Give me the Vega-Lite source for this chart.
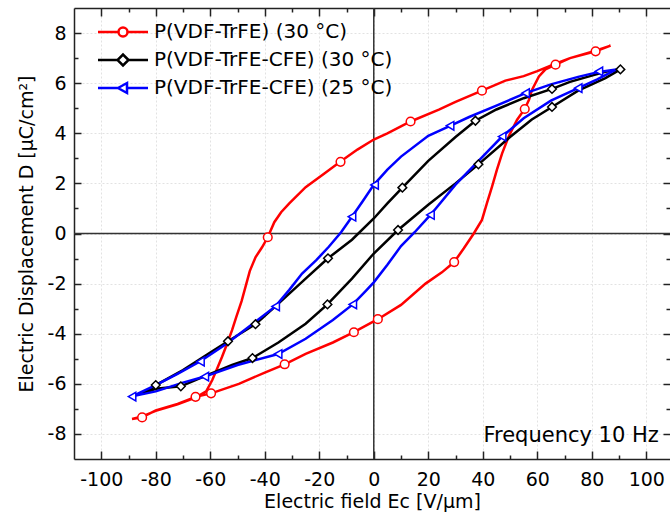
{
  "$schema": "https://vega.github.io/schema/vega-lite/v6.json",
  "width": 596,
  "height": 451,
  "autosize": "none",
  "padding": {"left": 74, "top": 8, "right": 0, "bottom": 58},
  "background": "white",
  "config": {
    "view": {"stroke": null},
    "font": "DejaVu Sans",
    "axis": {
      "labelFont": "DejaVu Sans", "labelFontSize": 19, "labelColor": "#000",
      "titleFont": "DejaVu Sans", "titleFontSize": 19, "titleFontWeight": "normal", "titleColor": "#000",
      "domainColor": "#222", "domainWidth": 1.5, "tickColor": "#222", "tickWidth": 1.5,
      "gridColor": "#e2e2e2", "gridDash": [2, 2], "gridWidth": 1
    }
  },
  "datasets": {
    "lines": [
      {"k":"r","i":1,"E":86.9,"D":7.5},{"k":"r","i":2,"E":81.4,"D":7.3},{"k":"r","i":3,"E":72,"D":7.0},{"k":"r","i":4,"E":66.7,"D":6.78},
      {"k":"r","i":5,"E":60,"D":6.48},{"k":"r","i":6,"E":55,"D":6.28},{"k":"r","i":7,"E":48.3,"D":6.1},{"k":"r","i":8,"E":39.7,"D":5.7},
      {"k":"r","i":9,"E":30,"D":5.25},{"k":"r","i":10,"E":23.9,"D":4.94},{"k":"r","i":11,"E":13.5,"D":4.47},{"k":"r","i":12,"E":5,"D":4.0},
      {"k":"r","i":13,"E":0,"D":3.75},{"k":"r","i":14,"E":-6,"D":3.35},{"k":"r","i":15,"E":-12.2,"D":2.87},{"k":"r","i":16,"E":-18,"D":2.4},
      {"k":"r","i":17,"E":-25,"D":1.85},{"k":"r","i":18,"E":-31,"D":1.2},{"k":"r","i":19,"E":-34,"D":0.85},{"k":"r","i":20,"E":-36.5,"D":0.45},
      {"k":"r","i":21,"E":-38.9,"D":-0.15},{"k":"r","i":22,"E":-41,"D":-0.55},{"k":"r","i":23,"E":-43.4,"D":-0.95},{"k":"r","i":24,"E":-45.5,"D":-1.5},
      {"k":"r","i":25,"E":-47,"D":-2.1},{"k":"r","i":26,"E":-48.5,"D":-2.7},{"k":"r","i":27,"E":-50.5,"D":-3.35},{"k":"r","i":28,"E":-52,"D":-3.86},
      {"k":"r","i":29,"E":-54,"D":-4.45},{"k":"r","i":30,"E":-55.7,"D":-4.93},{"k":"r","i":31,"E":-57.5,"D":-5.4},{"k":"r","i":32,"E":-59.3,"D":-5.86},
      {"k":"r","i":33,"E":-61.5,"D":-6.3},{"k":"r","i":34,"E":-65.4,"D":-6.55},{"k":"r","i":35,"E":-72,"D":-6.82},{"k":"r","i":36,"E":-80,"D":-7.08},
      {"k":"r","i":37,"E":-85,"D":-7.3},{"k":"r","i":38,"E":-88.7,"D":-7.4},
      {"k":"r","i":39,"E":-85,"D":-7.34},{"k":"r","i":40,"E":-80,"D":-7.06},{"k":"r","i":41,"E":-72,"D":-6.8},{"k":"r","i":42,"E":-65.4,"D":-6.52},
      {"k":"r","i":43,"E":-59.7,"D":-6.38},{"k":"r","i":44,"E":-49.5,"D":-6.0},{"k":"r","i":45,"E":-40,"D":-5.55},{"k":"r","i":46,"E":-32.7,"D":-5.22},
      {"k":"r","i":47,"E":-25,"D":-4.8},{"k":"r","i":48,"E":-15,"D":-4.35},{"k":"r","i":49,"E":-7.3,"D":-3.94},{"k":"r","i":50,"E":1.5,"D":-3.42},
      {"k":"r","i":51,"E":10,"D":-2.85},{"k":"r","i":52,"E":19,"D":-2.0},{"k":"r","i":53,"E":25,"D":-1.55},{"k":"r","i":54,"E":29.5,"D":-1.14},
      {"k":"r","i":55,"E":33,"D":-0.6},{"k":"r","i":56,"E":36.7,"D":0},{"k":"r","i":57,"E":39.7,"D":0.54},{"k":"r","i":58,"E":41.5,"D":1.2},
      {"k":"r","i":59,"E":43.4,"D":1.87},{"k":"r","i":60,"E":45.2,"D":2.55},{"k":"r","i":61,"E":47.1,"D":3.2},{"k":"r","i":62,"E":49.5,"D":3.87},
      {"k":"r","i":63,"E":52.6,"D":4.54},{"k":"r","i":64,"E":55.4,"D":4.97},{"k":"r","i":65,"E":57,"D":5.35},{"k":"r","i":66,"E":58.1,"D":5.74},
      {"k":"r","i":67,"E":60.6,"D":6.27},{"k":"r","i":68,"E":63,"D":6.55},{"k":"r","i":69,"E":66.7,"D":6.74},{"k":"r","i":70,"E":72,"D":7.0},
      {"k":"r","i":71,"E":81.4,"D":7.27},{"k":"r","i":72,"E":86.9,"D":7.5},

      {"k":"k","i":1,"E":90.5,"D":6.55},{"k":"k","i":2,"E":85,"D":6.45},{"k":"k","i":3,"E":80,"D":6.3},{"k":"k","i":4,"E":72,"D":6.05},
      {"k":"k","i":5,"E":65.4,"D":5.77},{"k":"k","i":6,"E":55,"D":5.4},{"k":"k","i":7,"E":45,"D":4.95},{"k":"k","i":8,"E":37.3,"D":4.5},
      {"k":"k","i":9,"E":30,"D":3.85},{"k":"k","i":10,"E":20,"D":2.9},{"k":"k","i":11,"E":10.5,"D":1.83},{"k":"k","i":12,"E":5,"D":1.2},
      {"k":"k","i":13,"E":0,"D":0.6},{"k":"k","i":14,"E":-8,"D":-0.25},{"k":"k","i":15,"E":-16.8,"D":-0.99},{"k":"k","i":16,"E":-25,"D":-1.8},
      {"k":"k","i":17,"E":-35,"D":-2.8},{"k":"k","i":18,"E":-43.4,"D":-3.62},{"k":"k","i":19,"E":-53.5,"D":-4.3},{"k":"k","i":20,"E":-60,"D":-4.75},
      {"k":"k","i":21,"E":-70,"D":-5.45},{"k":"k","i":22,"E":-80,"D":-6.05},{"k":"k","i":23,"E":-85,"D":-6.4},
      {"k":"k","i":24,"E":-80,"D":-6.2},{"k":"k","i":25,"E":-70.8,"D":-6.1},{"k":"k","i":26,"E":-60,"D":-5.6},{"k":"k","i":27,"E":-52,"D":-5.25},
      {"k":"k","i":28,"E":-44.5,"D":-4.97},{"k":"k","i":29,"E":-35,"D":-4.35},{"k":"k","i":30,"E":-25,"D":-3.6},{"k":"k","i":31,"E":-17,"D":-2.83},
      {"k":"k","i":32,"E":-8,"D":-1.8},{"k":"k","i":33,"E":0,"D":-0.8},{"k":"k","i":34,"E":8.9,"D":0.14},{"k":"k","i":35,"E":20,"D":1.15},
      {"k":"k","i":36,"E":30,"D":2.0},{"k":"k","i":37,"E":38.4,"D":2.76},{"k":"k","i":38,"E":50,"D":3.85},{"k":"k","i":39,"E":58,"D":4.55},
      {"k":"k","i":40,"E":65.4,"D":5.05},{"k":"k","i":41,"E":75,"D":5.7},{"k":"k","i":42,"E":85,"D":6.2},{"k":"k","i":43,"E":90.5,"D":6.55},

      {"k":"b","i":1,"E":89,"D":6.55},{"k":"b","i":2,"E":82.6,"D":6.45},{"k":"b","i":3,"E":75,"D":6.25},{"k":"b","i":4,"E":65,"D":5.95},
      {"k":"b","i":5,"E":55.7,"D":5.6},{"k":"b","i":6,"E":45,"D":5.1},{"k":"b","i":7,"E":35,"D":4.65},{"k":"b","i":8,"E":28,"D":4.3},
      {"k":"b","i":9,"E":20,"D":3.9},{"k":"b","i":10,"E":10,"D":3.07},{"k":"b","i":11,"E":5,"D":2.55},{"k":"b","i":12,"E":0,"D":1.94},
      {"k":"b","i":13,"E":-4,"D":1.3},{"k":"b","i":14,"E":-8,"D":0.67},{"k":"b","i":15,"E":-12,"D":0.05},{"k":"b","i":16,"E":-16.5,"D":-0.53},
      {"k":"b","i":17,"E":-21,"D":-1.05},{"k":"b","i":18,"E":-26.3,"D":-1.6},{"k":"b","i":19,"E":-31,"D":-2.25},{"k":"b","i":20,"E":-36,"D":-2.9},
      {"k":"b","i":21,"E":-45,"D":-3.65},{"k":"b","i":22,"E":-54,"D":-4.4},{"k":"b","i":23,"E":-63.6,"D":-5.1},{"k":"b","i":24,"E":-72,"D":-5.6},
      {"k":"b","i":25,"E":-80,"D":-6.05},{"k":"b","i":26,"E":-88.7,"D":-6.5},
      {"k":"b","i":27,"E":-80,"D":-6.3},{"k":"b","i":28,"E":-70,"D":-5.95},{"k":"b","i":29,"E":-62,"D":-5.71},{"k":"b","i":30,"E":-50,"D":-5.25},
      {"k":"b","i":31,"E":-35.1,"D":-4.81},{"k":"b","i":32,"E":-25,"D":-4.2},{"k":"b","i":33,"E":-15,"D":-3.45},{"k":"b","i":34,"E":-7.7,"D":-2.83},
      {"k":"b","i":35,"E":-3,"D":-2.3},{"k":"b","i":36,"E":0,"D":-1.95},{"k":"b","i":37,"E":5,"D":-1.25},{"k":"b","i":38,"E":10,"D":-0.5},
      {"k":"b","i":39,"E":15,"D":0.05},{"k":"b","i":40,"E":20.8,"D":0.74},{"k":"b","i":41,"E":30,"D":1.95},{"k":"b","i":42,"E":38,"D":2.85},
      {"k":"b","i":43,"E":47.1,"D":3.87},{"k":"b","i":44,"E":55,"D":4.6},{"k":"b","i":45,"E":65,"D":5.3},{"k":"b","i":46,"E":75,"D":5.8},
      {"k":"b","i":47,"E":82,"D":6.15},{"k":"b","i":48,"E":89,"D":6.55}
    ],
    "marks": [
      {"s":"P(VDF-TrFE) (30 °C)","E":81.4,"D":7.27},{"s":"P(VDF-TrFE) (30 °C)","E":66.7,"D":6.74},{"s":"P(VDF-TrFE) (30 °C)","E":55.4,"D":4.97},
      {"s":"P(VDF-TrFE) (30 °C)","E":39.7,"D":5.7},{"s":"P(VDF-TrFE) (30 °C)","E":13.5,"D":4.47},{"s":"P(VDF-TrFE) (30 °C)","E":-12.2,"D":2.86},
      {"s":"P(VDF-TrFE) (30 °C)","E":-38.9,"D":-0.15},{"s":"P(VDF-TrFE) (30 °C)","E":-59.7,"D":-6.38},{"s":"P(VDF-TrFE) (30 °C)","E":-65.4,"D":-6.52},
      {"s":"P(VDF-TrFE) (30 °C)","E":-85,"D":-7.34},{"s":"P(VDF-TrFE) (30 °C)","E":-32.7,"D":-5.22},{"s":"P(VDF-TrFE) (30 °C)","E":-7.3,"D":-3.94},
      {"s":"P(VDF-TrFE) (30 °C)","E":1.5,"D":-3.42},{"s":"P(VDF-TrFE) (30 °C)","E":29.5,"D":-1.14},
      {"s":"P(VDF-TrFE-CFE) (30 °C)","E":90.5,"D":6.55},{"s":"P(VDF-TrFE-CFE) (30 °C)","E":65.4,"D":5.77},{"s":"P(VDF-TrFE-CFE) (30 °C)","E":37.3,"D":4.5},
      {"s":"P(VDF-TrFE-CFE) (30 °C)","E":10.5,"D":1.83},{"s":"P(VDF-TrFE-CFE) (30 °C)","E":-16.8,"D":-0.99},{"s":"P(VDF-TrFE-CFE) (30 °C)","E":-43.4,"D":-3.62},
      {"s":"P(VDF-TrFE-CFE) (30 °C)","E":-53.5,"D":-4.3},{"s":"P(VDF-TrFE-CFE) (30 °C)","E":-80,"D":-6.05},{"s":"P(VDF-TrFE-CFE) (30 °C)","E":65.4,"D":5.05},
      {"s":"P(VDF-TrFE-CFE) (30 °C)","E":38.4,"D":2.76},{"s":"P(VDF-TrFE-CFE) (30 °C)","E":8.9,"D":0.14},{"s":"P(VDF-TrFE-CFE) (30 °C)","E":-17,"D":-2.83},
      {"s":"P(VDF-TrFE-CFE) (30 °C)","E":-44.5,"D":-4.97},{"s":"P(VDF-TrFE-CFE) (30 °C)","E":-70.8,"D":-6.1},
      {"s":"P(VDF-TrFE-CFE) (25 °C)","E":82.6,"D":6.47},{"s":"P(VDF-TrFE-CFE) (25 °C)","E":55.7,"D":5.6},{"s":"P(VDF-TrFE-CFE) (25 °C)","E":28,"D":4.3},
      {"s":"P(VDF-TrFE-CFE) (25 °C)","E":0.3,"D":1.94},{"s":"P(VDF-TrFE-CFE) (25 °C)","E":-8,"D":0.67},{"s":"P(VDF-TrFE-CFE) (25 °C)","E":-36,"D":-2.91},
      {"s":"P(VDF-TrFE-CFE) (25 °C)","E":-63.6,"D":-5.11},{"s":"P(VDF-TrFE-CFE) (25 °C)","E":-88.7,"D":-6.51},{"s":"P(VDF-TrFE-CFE) (25 °C)","E":75,"D":5.8},
      {"s":"P(VDF-TrFE-CFE) (25 °C)","E":47.1,"D":3.87},{"s":"P(VDF-TrFE-CFE) (25 °C)","E":20.8,"D":0.74},{"s":"P(VDF-TrFE-CFE) (25 °C)","E":-7.7,"D":-2.83},
      {"s":"P(VDF-TrFE-CFE) (25 °C)","E":-35.1,"D":-4.81},{"s":"P(VDF-TrFE-CFE) (25 °C)","E":-62,"D":-5.71}
    ]
  },
  "resolve": {"axis": {"x": "independent", "y": "independent"}, "scale": {"color": "independent", "shape": "independent"}},
  "layer": [
    {
      "data": {"values": [{}]},
      "mark": {"type": "rule", "color": "#333", "strokeWidth": 1.5},
      "encoding": {"y": {"datum": 0, "type": "quantitative", "scale": {"domain": [-9, 9], "nice": false, "zero": false}, "axis": null}}
    },
    {
      "data": {"values": [{}]},
      "mark": {"type": "rule", "color": "#333", "strokeWidth": 1.5},
      "encoding": {"x": {"datum": 0, "type": "quantitative", "scale": {"domain": [-110, 108.7], "nice": false, "zero": false}, "axis": null}}
    },
    {
      "data": {"name": "lines"},
      "transform": [{"filter": "datum.k === 'r'"}],
      "mark": {"type": "line", "color": "#ff0000", "strokeWidth": 2.5},
      "encoding": {
        "x": {"field": "E", "type": "quantitative", "scale": {"domain": [-110, 108.7], "nice": false, "zero": false},
              "axis": {"orient": "bottom", "values": [-100,-80,-60,-40,-20,0,20,40,60,80,100], "tickSize": -8, "grid": true, "labelPadding": 19,
                       "labelExpr": "datum.value + ''", "title": "Electric field Ec [V/µm]", "titlePadding": 3}},
        "y": {"field": "D", "type": "quantitative", "scale": {"domain": [-9, 9], "nice": false, "zero": false},
              "axis": {"orient": "left", "values": [-8,-6,-4,-2,0,2,4,6,8], "tickSize": -7, "grid": true, "labelPadding": 15,
                       "labelExpr": "datum.value + ''", "title": "Electric Displacement D [µC/cm²]", "titlePadding": 11}},
        "order": {"field": "i", "type": "quantitative"}
      }
    },
    {
      "data": {"name": "lines"},
      "transform": [{"filter": "datum.k === 'k'"}],
      "mark": {"type": "line", "color": "#000000", "strokeWidth": 2.5},
      "encoding": {
        "x": {"field": "E", "type": "quantitative",
              "axis": {"orient": "bottom", "values": [-90,-70,-50,-30,-10,10,30,50,70,90], "tickSize": -4, "grid": false, "labels": false, "domain": false, "title": null}},
        "y": {"field": "D", "type": "quantitative",
              "axis": {"orient": "left", "values": [-7,-5,-3,-1,1,3,5,7], "tickSize": -4, "grid": false, "labels": false, "domain": false, "title": null}},
        "order": {"field": "i", "type": "quantitative"}
      }
    },
    {
      "data": {"name": "lines"},
      "transform": [{"filter": "datum.k === 'b'"}],
      "mark": {"type": "line", "color": "#0000ff", "strokeWidth": 2.5},
      "encoding": {
        "x": {"field": "E", "type": "quantitative",
              "axis": {"orient": "top", "values": [-100,-80,-60,-40,-20,0,20,40,60,80,100], "tickSize": -8, "grid": false, "labels": false, "domain": true, "title": null}},
        "y": {"field": "D", "type": "quantitative",
              "axis": {"orient": "right", "values": [-8,-6,-4,-2,0,2,4,6,8], "tickSize": -7, "grid": false, "labels": false, "domain": false, "title": null}},
        "order": {"field": "i", "type": "quantitative"}
      }
    },
    {
      "data": {"name": "marks"},
      "mark": {"type": "point", "filled": false, "fill": "white", "strokeWidth": 1.5, "size": 75, "opacity": 1},
      "encoding": {
        "x": {"field": "E", "type": "quantitative",
              "axis": {"orient": "top", "values": [-90,-70,-50,-30,-10,10,30,50,70,90], "tickSize": -4, "grid": false, "labels": false, "domain": false, "title": null}},
        "y": {"field": "D", "type": "quantitative",
              "axis": {"orient": "right", "values": [-7,-5,-3,-1,1,3,5,7], "tickSize": -4, "grid": false, "labels": false, "domain": false, "title": null}},
        "color": {"field": "s", "type": "nominal",
                  "scale": {"domain": ["P(VDF-TrFE) (30 °C)", "P(VDF-TrFE-CFE) (30 °C)", "P(VDF-TrFE-CFE) (25 °C)"], "range": ["#ff0000", "#000000", "#0000ff"]},
                  "legend": null},
        "shape": {"field": "s", "type": "nominal",
                  "scale": {"domain": ["P(VDF-TrFE) (30 °C)", "P(VDF-TrFE-CFE) (30 °C)", "P(VDF-TrFE-CFE) (25 °C)"], "range": ["circle", "diamond", "triangle-left"]},
                  "legend": null}
      }
    },
    {
      "data": {"name": "marks"},
      "transform": [{"filter": "false"}],
      "mark": {"type": "point", "filled": false, "fill": "white", "strokeWidth": 2.5, "opacity": 1},
      "encoding": {
        "color": {"field": "s", "type": "nominal",
                  "scale": {"domain": ["P(VDF-TrFE) (30 °C)", "P(VDF-TrFE-CFE) (30 °C)", "P(VDF-TrFE-CFE) (25 °C)"], "range": ["#ff0000", "#000000", "#0000ff"]},
                  "legend": {"orient": "none", "legendX": 39, "legendY": 14, "title": null, "padding": 0, "symbolSize": 100, "symbolStrokeWidth": 2.5,
                             "symbolFillColor": "white", "labelFont": "DejaVu Sans", "labelFontSize": 20, "labelColor": "#000", "labelOffset": 21, "rowPadding": 7,
                             "labelLimit": 500}},
        "shape": {"field": "s", "type": "nominal",
                  "scale": {"domain": ["P(VDF-TrFE) (30 °C)", "P(VDF-TrFE-CFE) (30 °C)", "P(VDF-TrFE-CFE) (25 °C)"],
                            "range": ["M-5,0L-0.9,0M0.9,0L5,0M0.9,0A0.9,0.9,0,1,1,-0.9,0A0.9,0.9,0,1,1,0.9,0Z", "M-5,0L-1.1,0M1.1,0L5,0M1.1,0L0,-1.1L-1.1,0L0,1.1Z", "M-5,0L-1,0M0.8,0L5,0M-1,0L0.8,-1L0.8,1Z"]},
                  "legend": {"orient": "none", "legendX": 39, "legendY": 14, "title": null, "padding": 0, "symbolSize": 100, "symbolStrokeWidth": 2.5,
                             "symbolFillColor": "white", "labelFont": "DejaVu Sans", "labelFontSize": 20, "labelColor": "#000", "labelOffset": 21, "rowPadding": 7,
                             "labelLimit": 500}}
      }
    },
    {
      "data": {"values": [{"t": "Frequency 10 Hz"}]},
      "mark": {"type": "text", "align": "right", "baseline": "middle", "font": "DejaVu Sans", "fontSize": 21, "color": "#000"},
      "encoding": {
        "x": {"datum": 104.6, "type": "quantitative", "axis": null},
        "y": {"datum": -8.1, "type": "quantitative", "axis": null},
        "text": {"field": "t"}
      }
    }
  ]
}
